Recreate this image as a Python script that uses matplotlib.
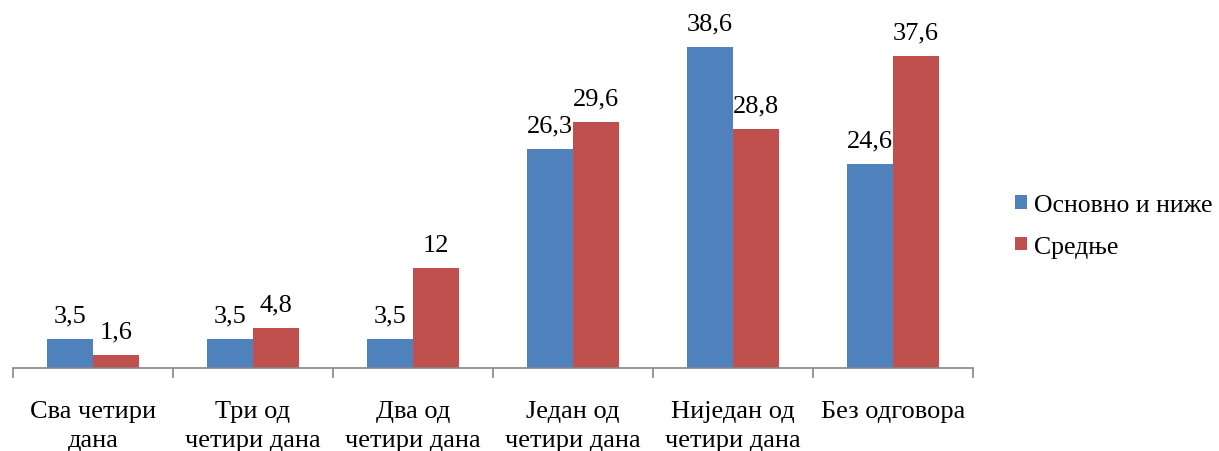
import numpy as np
import matplotlib.pyplot as plt

plt.rcParams['font.family'] = ['Liberation Serif', 'DejaVu Serif']

categories = ['Сва четири\nдана', 'Три од\nчетири дана', 'Два од\nчетири дана',
              'Један од\nчетири дана', 'Ниједан од\nчетири дана', 'Без одговора']
basic = [3.5, 3.5, 3.5, 26.3, 38.6, 24.6]
secondary = [1.6, 4.8, 12, 29.6, 28.8, 37.6]
value_labels_basic = ['3,5', '3,5', '3,5', '26,3', '38,6', '24,6']
value_labels_secondary = ['1,6', '4,8', '12', '29,6', '28,8', '37,6']
series_names = ['Основно и ниже', 'Средње']

W, H = 1219, 452
fig = plt.figure(figsize=(W / 100, H / 100), dpi=100)
ax = fig.add_axes([13 / W, (H - 369) / H, 960 / W, 369 / H])

x = np.arange(len(categories))
bw = 0.2875
b1 = ax.bar(x - bw / 2, basic, bw, color='#4F81BD', label=series_names[0])
b2 = ax.bar(x + bw / 2, secondary, bw, color='#C0504D', label=series_names[1])

for bars, labels in ((b1, value_labels_basic), (b2, value_labels_secondary)):
    for bar, lab in zip(bars, labels):
        ax.annotate(lab, (bar.get_x() + bar.get_width() / 2, bar.get_height()),
                    xytext=(0, 9), textcoords='offset points',
                    ha='center', va='bottom', fontsize=19)

ax.set_xlim(-0.5, len(categories) - 0.5)
ax.set_ylim(0, 44.4)
ax.set_yticks([])
for s in ('top', 'right', 'left'):
    ax.spines[s].set_visible(False)
ax.spines['bottom'].set_color('#868686')
ax.spines['bottom'].set_linewidth(1.2)

ax.set_xticks(x)
ax.set_xticklabels(categories, fontsize=19, linespacing=1.42)
ax.tick_params(axis='x', which='major', length=0, pad=23)
ax.set_xticks(np.arange(len(categories) + 1) - 0.5, minor=True)
ax.tick_params(axis='x', which='minor', length=7, width=1.2, color='#868686')

fig.legend(handles=[b1, b2], labels=series_names, loc='center left',
           bbox_to_anchor=(997 / W, 1 - 227 / H), frameon=False, fontsize=18.5,
           handlelength=0.45, handleheight=0.45, handletextpad=0.3,
           labelspacing=0.75, borderpad=0.2)

fig.savefig('out.png', dpi=100)
